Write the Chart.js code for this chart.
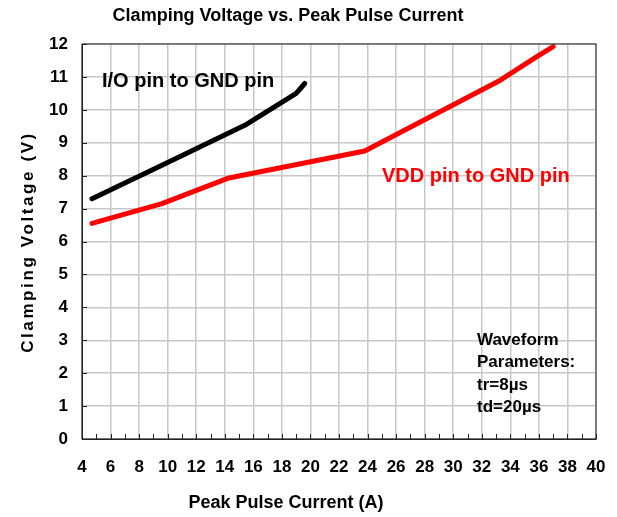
<!DOCTYPE html>
<html>
<head>
<meta charset="utf-8">
<script src="https://cdn.jsdelivr.net/npm/chart.js@4"></script>
<style>
  html, body { margin: 0; padding: 0; background: #fff; }
</style>
</head>
<body>
<canvas id="main-chart" width="617" height="517"></canvas>
<script>
// data
const ioCurrent = [4.7, 9.6, 15.4, 19.0, 19.6];
const ioVoltage = [7.3, 8.32, 9.53, 10.5, 10.8];
const vddCurrent = [4.7, 9.6, 14.2, 23.8, 33.3, 35.8, 37.0];
const vddVoltage = [6.55, 7.15, 7.92, 8.75, 10.9, 11.6, 11.92];

const chartTitle = "Clamping Voltage vs. Peak Pulse Current";
const xTitle = "Peak Pulse Current (A)";
const yTitle = "Clamping Voltage (V)";
const ioLabel = "I/O pin to GND pin";
const vddLabel = "VDD pin to GND pin";
const waveNote = ["Waveform", "Parameters:", "tr=8\u00b5s", "td=20\u00b5s"];

const FONT = "'Liberation Sans', Arial, sans-serif";

const toXY = (xs, ys) => xs.map((x, i) => ({ x: x, y: ys[i] }));

const textPlugin = {
  id: "texts",
  afterDraw(chart) {
    const c = chart.ctx;
    const a = chart.chartArea;
    const xs = chart.scales.x;
    const ys = chart.scales.y;

    // frame
    c.save();
    c.strokeStyle = "#222";
    c.lineWidth = 1;
    c.strokeRect(a.left, a.top, a.right - a.left, a.bottom - a.top);

    // small inward ticks
    c.beginPath();
    xs.ticks.forEach((t) => {
      const px = Math.round(xs.getPixelForValue(t.value)) + 0.5;
      c.moveTo(px, a.bottom);
      c.lineTo(px, a.bottom - 5);
    });
    ys.ticks.forEach((t) => {
      const py = Math.round(ys.getPixelForValue(t.value)) + 0.5;
      c.moveTo(a.left, py);
      c.lineTo(a.left + 5, py);
    });
    c.stroke();

    c.textBaseline = "middle";
    c.textAlign = "center";
    c.fillStyle = "#000";
    c.font = "bold 18px " + FONT;
    c.fillText(chartTitle, 288, 16);
    c.fillText(xTitle, 286, 503);

    c.save();
    c.translate(28, 242);
    c.rotate(-Math.PI / 2);
    c.font = "bold 17px " + FONT;
    c.letterSpacing = "2.6px";
    c.fillText(yTitle, 0, 0);
    c.restore();

    c.letterSpacing = "0px";
    c.textAlign = "left";
    c.font = "bold 20px " + FONT;
    c.fillText(ioLabel, 102, 81);
    c.fillStyle = "#ff0000";
    c.fillText(vddLabel, 382, 176);

    c.fillStyle = "#000";
    c.font = "bold 17px " + FONT;
    const lineY = [340, 362, 385, 407];
    waveNote.forEach((s, i) => c.fillText(s, 477, lineY[i]));
    c.restore();
  },
};

const ctx = document.getElementById("main-chart").getContext("2d");

new Chart(ctx, {
  type: "line",
  data: {
    datasets: [
      {
        label: ioLabel,
        data: toXY(ioCurrent, ioVoltage),
        borderColor: "#000",
        borderWidth: 5,
        borderCapStyle: "round",
        borderJoinStyle: "round",
        pointRadius: 0,
        tension: 0,
      },
      {
        label: vddLabel,
        data: toXY(vddCurrent, vddVoltage),
        borderColor: "#ff0000",
        borderWidth: 5,
        borderCapStyle: "round",
        borderJoinStyle: "round",
        pointRadius: 0,
        tension: 0,
      },
    ],
  },
  options: {
    responsive: false,
    animation: false,
    layout: { padding: { top: 44, right: 21, left: 0, bottom: 0 } },
    plugins: {
      legend: { display: false },
      tooltip: { enabled: false },
    },
    scales: {
      x: {
        type: "linear",
        min: 4,
        max: 40,
        afterFit: (s) => {
          s.height = 78;
          s.paddingLeft = 0;
          s.paddingRight = 0;
        },
        border: { color: "#222", width: 1 },
        grid: {
          drawTicks: false,
          lineWidth: 1.5,
          color: (c) => (c.tick && c.tick.value % 2 === 0 ? "#c8c8c8" : "rgba(0,0,0,0)"),
        },
        ticks: {
          stepSize: 1,
          autoSkip: false,
          maxRotation: 0,
          padding: 18,
          color: "#000",
          font: { family: FONT, size: 17, weight: "bold" },
          callback: (v) => (v % 2 === 0 ? v : ""),
        },
      },
      y: {
        min: 0,
        max: 12,
        afterFit: (s) => { s.width = 82; },
        border: { color: "#222", width: 1 },
        grid: { drawTicks: false, lineWidth: 1.5, color: "#c8c8c8" },
        ticks: {
          stepSize: 1,
          padding: 14,
          color: "#000",
          font: { family: FONT, size: 17, weight: "bold" },
        },
      },
    },
  },
  plugins: [textPlugin],
});
</script>
</body>
</html>
